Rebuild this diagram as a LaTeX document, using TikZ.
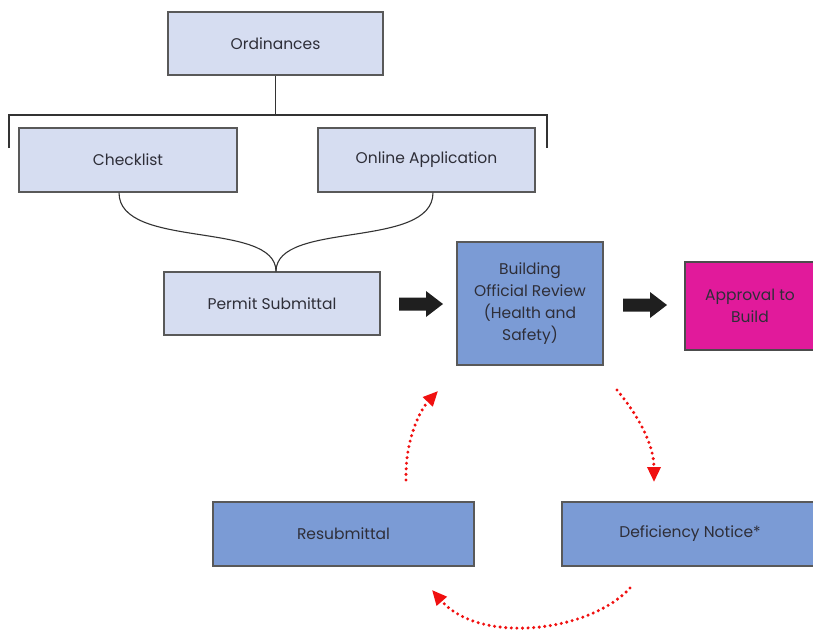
\documentclass[tikz,border=0pt]{standalone}
\usepackage{fontspec}
\setmainfont{Poppins}
\usetikzlibrary{arrows.meta,calc}
\definecolor{lightbox}{HTML}{D6DDF1}
\definecolor{midbox}{HTML}{7B9BD5}
\definecolor{magbox}{HTML}{E11A9B}
\definecolor{edge}{HTML}{595959}
\definecolor{txt}{HTML}{2E2E38}
\definecolor{dotred}{HTML}{F01010}
\tikzset{
  box/.style={draw=edge, line width=1.1pt, text=txt, font=\fontsize{15.5}{22}\selectfont, align=center, inner sep=0pt},
  lightb/.style={box, fill=lightbox},
  midb/.style={box, fill=midbox},
  magb/.style={box, fill=magbox, draw=black!70},
  conn/.style={draw=black!80, line width=1.1pt},
  redloop/.style={draw=dotred, line width=3.4pt, line cap=round, dash pattern=on 0pt off 5.6pt, -{Triangle[length=15pt,width=13pt]}},
}
\begin{document}
\begin{tikzpicture}[x=1pt,y=-1pt]
\useasboundingbox (0,0) rectangle (813,630);
% boxes
\node[lightb, minimum width=215, minimum height=63] (ord) at (275.5,43.5) {Ordinances};
\node[lightb, minimum width=218, minimum height=64] (chk) at (128,160) {Checklist};
\node[lightb, minimum width=217, minimum height=64] (onl) at (426.5,160) {Online Application};
\node[lightb, minimum width=216, minimum height=63] (pmt) at (272,303.5) {Permit Submittal};
\node[midb, minimum width=146, minimum height=123] (rev) at (530,303.5) {Building\\Official Review\\(Health and\\Safety)};
\node[magb, minimum width=130, minimum height=88] (app) at (750,306) {Approval to\\Build};
\node[midb, minimum width=261, minimum height=64] (res) at (343.5,534) {Resubmittal};
\node[midb, minimum width=256, minimum height=64] (def) at (690,534) {Deficiency Notice*};
% bracket
\coordinate (bl) at (9,148);
\coordinate (br) at (547,148);
\coordinate (bm) at (ord.south |- 0,115);
\draw[conn] (ord.south) -- (bm);
\draw[conn] (bl) -- (bl |- bm) -- (br |- bm) -- (br);
% curly join
\coordinate (cj) at (pmt.north -| 276,0);
\draw[conn] (chk.south -| 119,0) .. controls (119,250) and (276,220) .. (cj);
\draw[conn] (onl.south -| 433,0) .. controls (433,250) and (276,220) .. (cj);
% block arrows
\coordinate (a1) at (399,304);
\coordinate (a2) at (623,305);
\foreach \c in {a1,a2}{
  \fill[black!88] ($(\c)+(0,-6.5)$) -- ++(27,0) -- ++(0,-6.5) -- ++(17,13) -- ++(-17,13) -- ++(0,-6.5) -- ++(-27,0) -- cycle;
}
% red dotted loop
\coordinate (l1) at (406,480);
\coordinate (l2) at (438,391);
\coordinate (r1) at (617,390);
\coordinate (r2) at (654,482);
\coordinate (b1) at (630,588);
\coordinate (b2) at (432,590);
\draw[redloop] (l1) .. controls (405,440) and (420,410) .. (l2);
\draw[redloop] (r1) .. controls (632,408) and (654,440) .. (r2);
\draw[redloop] (b1) .. controls (590,632) and (480,645) .. (b2);
\end{tikzpicture}
\end{document}
